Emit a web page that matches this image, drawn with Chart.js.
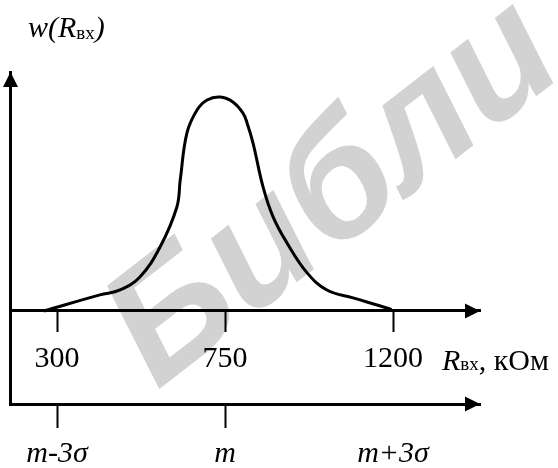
<!DOCTYPE html>
<html>
<head>
<meta charset="utf-8">
<script src="https://cdn.jsdelivr.net/npm/chart.js@4.4.1/dist/chart.umd.min.js"></script>
<style>
  html, body { margin: 0; padding: 0; background: #fff; }
  #wrap { width: 558px; height: 468px; }
</style>
</head>
<body>
<div id="wrap"><canvas id="distChart" width="558" height="468"></canvas></div>
<script>
// input resistance R_vx, kOhm, and density w(R_vx) (peak = 1)
const rValues = [265, 415, 469, 522, 576, 621, 630, 648, 675, 702, 737, 771, 798, 809, 825, 852, 879, 916, 970, 1023, 1093, 1192, 1197];
const wValues = [0, 0.075, 0.098, 0.159, 0.299, 0.486, 0.612, 0.832, 0.939, 0.986, 1.0, 0.977, 0.925, 0.879, 0.785, 0.579, 0.439, 0.318, 0.178, 0.098, 0.061, 0.009, 0];

const rTicks = [300, 750, 1200];
const sigmaLabels = ['m-3σ', 'm', 'm+3σ'];
const rRange = [174, 1433];
const wRange = [-0.435, 1.117];

const serif = '"Liberation Serif", "Times New Roman", serif';

// draw a line of text made of runs with different fonts
const drawRuns = (ctx, x, y, runs) => {
  ctx.textAlign = 'left';
  ctx.textBaseline = 'alphabetic';
  runs.forEach(run => {
    ctx.font = run.font;
    ctx.fillText(run.text, x, y + (run.dy || 0));
    x += ctx.measureText(run.text).width;
  });
};

const arrow = (ctx, x, y, dir) => {
  const len = 15, half = 7.5;
  ctx.beginPath();
  if (dir === 'up') {
    ctx.moveTo(x, y);
    ctx.lineTo(x - half, y + len);
    ctx.lineTo(x + half, y + len);
  } else {
    ctx.moveTo(x, y);
    ctx.lineTo(x - len, y - half);
    ctx.lineTo(x - len, y + half);
  }
  ctx.closePath();
  ctx.fill();
};

const axisDecor = {
  id: 'axisDecor',
  beforeDraw(chart) {
    // library watermark
    const {ctx} = chart;
    ctx.save();
    ctx.fillStyle = '#d2d2d2';
    ctx.font = 'italic bold 165px "Liberation Sans", sans-serif';
    ctx.translate(335, 195);
    ctx.rotate(-0.66);
    ctx.textAlign = 'center';
    ctx.textBaseline = 'middle';
    ctx.fillText('Библи', 0, 0);
    ctx.restore();
  },
  afterDraw(chart) {
    const {ctx, chartArea, scales} = chart;
    const y0 = scales.y.getPixelForValue(0);
    ctx.save();
    ctx.fillStyle = '#000';
    arrow(ctx, chartArea.left + 0.5, chartArea.top, 'up');
    arrow(ctx, chartArea.right, y0, 'right');
    arrow(ctx, chartArea.right, chartArea.bottom, 'right');

    drawRuns(ctx, chartArea.left + 18, 37, [
      {text: 'w(R', font: 'italic 30px ' + serif},
      {text: 'вх', font: '19px ' + serif, dy: 2},
      {text: ')', font: 'italic 30px ' + serif}
    ]);
    drawRuns(ctx, chartArea.right - 38, y0 + 59, [
      {text: 'R', font: 'italic 30px ' + serif},
      {text: 'вх', font: '19px ' + serif},
      {text: ', кОм', font: '30px ' + serif}
    ]);
    ctx.restore();
  }
};

const setTicks = (scale) => {
  scale.ticks = rTicks.map(v => ({value: v}));
};

new Chart(document.getElementById('distChart'), {
  type: 'line',
  data: {
    datasets: [{
      data: rValues.map((r, i) => ({x: r, y: wValues[i]})),
      borderColor: '#000',
      borderWidth: 3,
      pointRadius: 0,
      tension: 0.4,
      fill: false
    }]
  },
  options: {
    responsive: false,
    animation: false,
    devicePixelRatio: 1,
    layout: {
      padding: {left: 10, top: 72, right: 78, bottom: 64}
    },
    plugins: {
      legend: {display: false},
      tooltip: {enabled: false}
    },
    scales: {
      x: {
        type: 'linear',
        position: {y: 0},
        min: rRange[0],
        max: rRange[1],
        afterBuildTicks: setTicks,
        afterFit: (scale) => { scale.height = 0; },
        grid: {
          display: true,
          drawOnChartArea: false,
          tickLength: 20,
          tickWidth: 2,
          tickColor: '#000'
        },
        border: {display: true, width: 3, color: '#000'},
        ticks: {
          padding: 10,
          maxRotation: 0,
          color: '#000',
          font: {family: serif, size: 30},
          callback: (v) => String(v)
        }
      },
      x2: {
        type: 'linear',
        axis: 'x',
        position: {y: wRange[0]},
        min: rRange[0],
        max: rRange[1],
        afterBuildTicks: setTicks,
        afterFit: (scale) => { scale.height = 0; },
        grid: {
          display: true,
          drawOnChartArea: false,
          tickLength: 22,
          tickWidth: 2,
          tickColor: (ctx) => ctx.index === 2 ? 'rgba(0,0,0,0)' : '#000'
        },
        border: {display: true, width: 3, color: '#000'},
        ticks: {
          padding: 10,
          maxRotation: 0,
          color: '#000',
          font: {family: serif, size: 30, style: 'italic'},
          callback: (v, i) => sigmaLabels[i]
        }
      },
      y: {
        type: 'linear',
        position: 'left',
        min: wRange[0],
        max: wRange[1],
        afterFit: (scale) => { scale.width = 0; },
        grid: {display: false, drawTicks: false},
        border: {display: true, width: 3, color: '#000'},
        ticks: {display: false}
      }
    }
  },
  plugins: [axisDecor]
});
</script>
</body>
</html>
